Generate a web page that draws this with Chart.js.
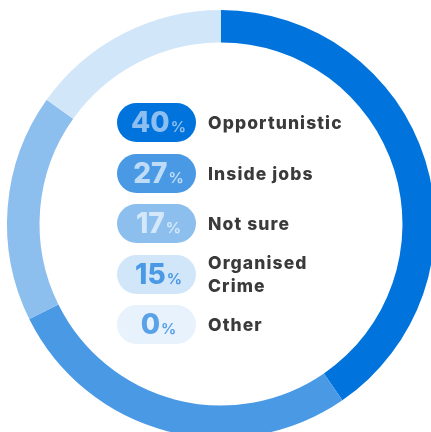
<!DOCTYPE html>
<html>
<head>
<meta charset="utf-8">
<script src="https://cdn.jsdelivr.net/npm/chart.js@4"></script>
<style>
  html, body { margin: 0; padding: 0; background: #ffffff; }
  #wrap { position: relative; width: 431px; height: 432px; overflow: hidden; background: #fff; }
  #c { position: absolute; left: 0; top: 0; }
  #legend { position: absolute; left: 117px; top: 103px; font-family: Inter, "Open Sans", sans-serif; }
  .row { display: flex; align-items: center; height: 39px; margin-bottom: 11.5px; }
  .pill { width: 79px; height: 39px; border-radius: 20px; display: flex; align-items: baseline; justify-content: center; box-sizing: border-box; padding-top: 4px; padding-left: 4px; }
  .num { font-size: 28px; font-weight: 800; letter-spacing: 0px; line-height: 31px; }
  .pct { font-size: 15px; font-weight: 700; margin-left: 1px; }
  .lab { margin-left: 12px; font-size: 17.5px; font-weight: 800; color: #3a3a3a; line-height: 23px; letter-spacing: 1.1px; }
</style>
</head>
<body>
<div id="wrap">
  <canvas id="c" width="442" height="450"></canvas>
  <div id="legend"></div>
</div>
<script>
const categories = ["Opportunistic", "Inside jobs", "Not sure", "Organised\nCrime", "Other"];
const values = [40, 27, 17, 15, 0];
const segmentColors = ["#0073dc", "#4a99e5", "#8dbfee", "#d2e6f9", "#e8f2fc"];
const numberColors = ["#8cbef0", "#bedcf8", "#d4e8fa", "#4a99e5", "#5aa2e8"];

new Chart(document.getElementById('c'), {
  type: 'doughnut',
  data: {
    labels: categories,
    datasets: [{
      data: values,
      backgroundColor: segmentColors,
      borderWidth: 0,
      hoverOffset: 0
    }]
  },
  options: {
    responsive: false,
    animation: false,
    cutout: '84.8%',
    layout: { padding: { left: 7, right: 7, top: 10, bottom: 12 } },
    plugins: { legend: { display: false }, tooltip: { enabled: false } }
  }
});

const legend = document.getElementById('legend');
categories.forEach((cat, i) => {
  const row = document.createElement('div');
  row.className = 'row';
  const pill = document.createElement('div');
  pill.className = 'pill';
  pill.style.background = segmentColors[i];
  const num = document.createElement('span');
  num.className = 'num';
  num.style.color = numberColors[i];
  num.textContent = values[i];
  const pct = document.createElement('span');
  pct.className = 'pct';
  pct.style.color = numberColors[i];
  pct.textContent = '%';
  pill.appendChild(num);
  pill.appendChild(pct);
  const lab = document.createElement('div');
  lab.className = 'lab';
  lab.innerHTML = cat.split('\n').map(s => s.replace(/&/g,'&amp;').replace(/</g,'&lt;')).join('<br>');
  row.appendChild(pill);
  row.appendChild(lab);
  legend.appendChild(row);
});
</script>
</body>
</html>
